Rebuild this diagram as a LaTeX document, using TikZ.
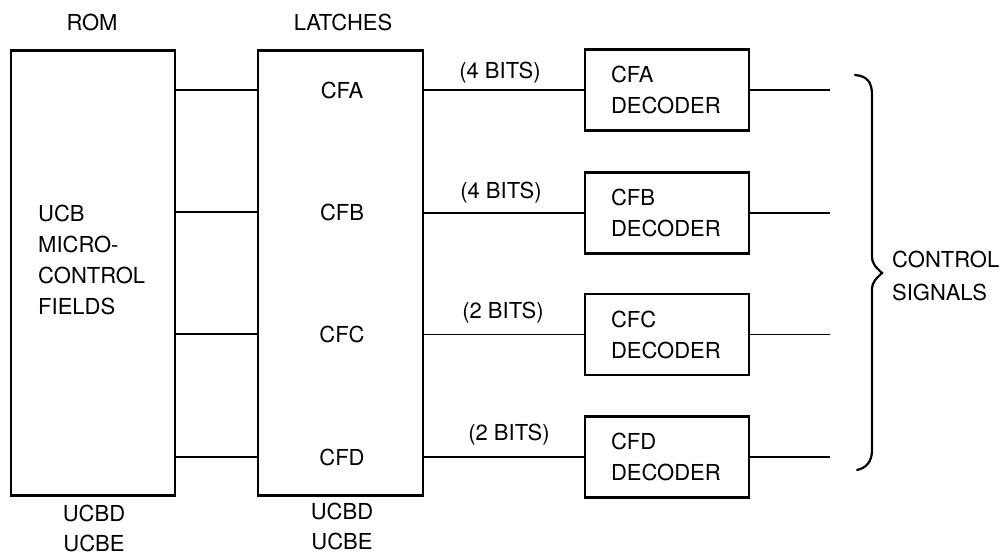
\documentclass[tikz,border=0pt]{standalone}
\usepackage{fontspec}
\setmainfont{TeX Gyre Heros}
\begin{document}
\begin{tikzpicture}[x=1pt,y=-1pt,
  box/.style={draw,line width=2.6pt,inner sep=0pt},
  wire/.style={line width=1.8pt},
  lbl/.style={inner sep=0pt,font=\fontsize{22}{31}\selectfont},
  decbox/.style={box,minimum width=164pt,minimum height=81pt,text width=112pt,inner xsep=26pt,align=left,font=\fontsize{22}{31}\selectfont}]
\useasboundingbox (0,0) rectangle (1005,556);
% main blocks
\node[box,minimum width=164pt,minimum height=445pt] (rom) at (93,273) {};
\node[box,minimum width=165pt,minimum height=445pt] (latch) at (340.5,273) {};
% labels
\node[lbl] (romlbl) at (92,22) {ROM};
\node[lbl] (latlbl) at (343,22) {LATCHES};
\node[lbl,anchor=west,align=left] (ucb) at (38,259.5) {UCB\\MICRO-\\CONTROL\\FIELDS};
\node[lbl,align=center,font=\fontsize{22}{30}\selectfont] (romsig) at (94,528) {UCBD\\UCBE};
\node[lbl,align=center,font=\fontsize{22}{30}\selectfont] (latsig) at (342,526) {UCBD\\UCBE};
\node[lbl] (cfa) at (342,90) {CFA};
\node[lbl] (cfb) at (342,212) {CFB};
\node[lbl] (cfc) at (342,334) {CFC};
\node[lbl] (cfd) at (342,457) {CFD};
% decoders
\node[decbox] (deca) at (667,90) {CFA\\DECODER};
\node[decbox] (decb) at (667,213) {CFB\\DECODER};
\node[decbox] (decc) at (667,334.5) {CFC\\DECODER};
\node[decbox] (decd) at (667,457) {CFD\\DECODER};
% bit labels
\node[lbl] (ba) at (500,73) {(4 BITS)};
\node[lbl] (bb) at (501,193) {(4 BITS)};
\node[lbl] (bc) at (503,313) {(2 BITS)};
\node[lbl] (bd) at (509,435) {(2 BITS)};
% wires rom -> latch
\foreach \n in {cfa,cfb,cfc,cfd}
  \draw[wire] (rom.east |- \n) -- (latch.west |- \n);
% wires latch -> decoders
\foreach \d in {deca,decb,decc,decd}
  \draw[wire] (latch.east |- \d) -- (\d.west);
% outputs
\coordinate (oa) at (830,90);
\coordinate (ob) at (830,213);
\coordinate (oc) at (830,334.5);
\coordinate (od) at (830,457);
\draw[wire] (deca.east) -- (oa);
\draw[wire] (decb.east) -- (ob);
\draw[wire] (decc.east) -- (oc);
\draw[wire] (decd.east) -- (od);
% brace
\draw[line width=2.2pt,line cap=round]
  (855,75) .. controls (867,76) and (872,82) .. (872,95)
  -- (872,256) .. controls (872,265) and (877,268) .. (882,273)
  .. controls (877,278) and (872,281) .. (872,290)
  -- (872,450) .. controls (872,462) and (866,468) .. (857,470);
\node[lbl,anchor=west,align=left] (ctrl) at (892,275.5) {CONTROL\\[2pt]SIGNALS};
\end{tikzpicture}
\end{document}
